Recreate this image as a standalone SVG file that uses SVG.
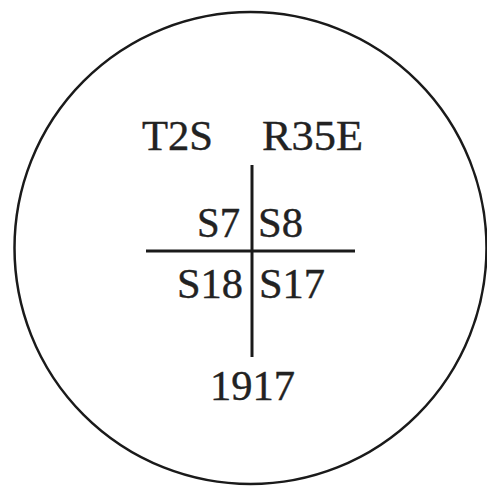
<svg xmlns="http://www.w3.org/2000/svg" width="487" height="486" viewBox="0 0 487 486">
<style>
.t{font-family:"Liberation Serif","Times New Roman",serif;font-size:43px;fill:#222;stroke:#222;stroke-width:0.4}
.l{stroke:#1a1a1a;stroke-width:3;fill:none}
</style>
<rect width="487" height="486" fill="#fff"/>
<g id="cap"><circle cx="250.5" cy="248" r="236" fill="none" stroke="#1a1a1a" stroke-width="2.5"/></g>
<g id="connectors">
<line class="l" x1="252" y1="165" x2="252" y2="357"/>
<line class="l" x1="146" y1="251" x2="355" y2="251"/>
</g>
<g id="t2s"><text class="t" x="142" y="150" textLength="71" lengthAdjust="spacingAndGlyphs">T2S</text></g>
<g id="r35e"><text class="t" x="262" y="150" textLength="101" lengthAdjust="spacingAndGlyphs">R35E</text></g>
<g id="s7"><text class="t" x="197" y="237" textLength="43" lengthAdjust="spacingAndGlyphs">S7</text></g>
<g id="s8"><text class="t" x="258" y="237" textLength="45" lengthAdjust="spacingAndGlyphs">S8</text></g>
<g id="s18"><text class="t" x="177" y="298" textLength="66" lengthAdjust="spacingAndGlyphs">S18</text></g>
<g id="s17"><text class="t" x="259" y="298" textLength="66" lengthAdjust="spacingAndGlyphs">S17</text></g>
<g id="year"><text class="t" x="210" y="400" textLength="85" lengthAdjust="spacingAndGlyphs">1917</text></g>
</svg>
